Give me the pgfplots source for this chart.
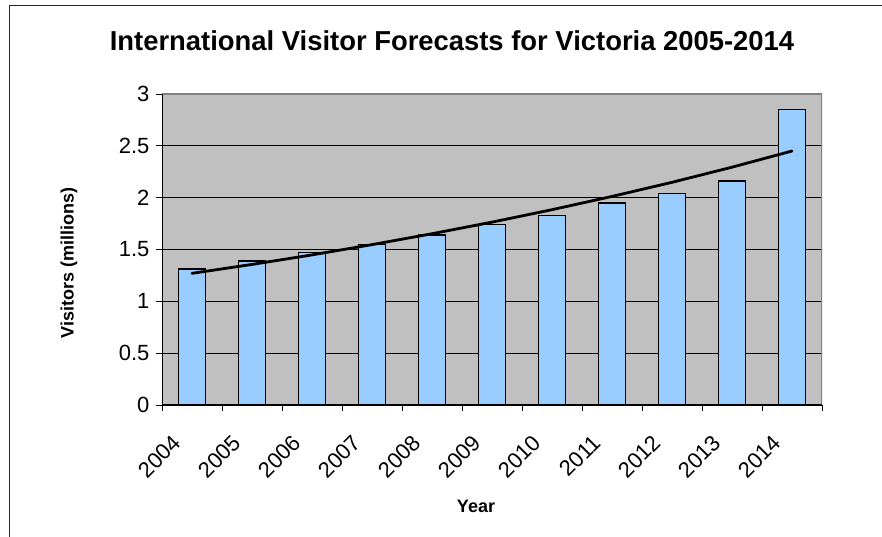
\documentclass[border=0pt]{standalone}
\usepackage{pgfplots}
\pgfplotsset{compat=1.18}
\usepackage{fontspec}
\setmainfont{Liberation Sans}
\definecolor{plotbg}{HTML}{C0C0C0}
\definecolor{barblue}{HTML}{99CCFF}
\definecolor{areaedge}{HTML}{808080}

\begin{document}
\begin{tikzpicture}[x=1pt,y=1pt]
\clip (0,0) rectangle (882,536);
\fill[white] (0,0) rectangle (882,536);
\draw[line width=1.6pt, black!85] (9.5,-10) rectangle (900,530.5);
\node[font=\bfseries\fontsize{27.4}{32}\selectfont, anchor=base] at (452,485.3)
  {International Visitor Forecasts for Victoria 2005-2014};
\node[font=\bfseries\fontsize{18}{22}\selectfont, rotate=90] at (69,273) {Visitors (millions)};
\node[font=\bfseries\fontsize{18}{22}\selectfont, anchor=base] at (476,24) {Year};
\begin{axis}[
  at={(162pt,131pt)}, anchor=south west,
  width=660pt, height=311pt, scale only axis,
  xmin=-0.5, xmax=10.5, ymin=0, ymax=3,
  axis background/.style={fill=plotbg},
  axis line style={draw=none},
  ytick={0,0.5,1,1.5,2,2.5,3},
  ymajorgrids, grid style={black, line width=0.9pt},
  tick align=outside, major tick length=6pt,
  tick style={black, line width=0.9pt},
  xtick pos=lower, ytick pos=left,
  xtick={-0.5,0.5,...,10.5},
  x tick label as interval,
  xticklabels={2004,2005,2006,2007,2008,2009,2010,2011,2012,2013,2014},
  /pgf/number format/assume math mode=true,
  yticklabel style={font=\fontsize{22}{26}\selectfont, xshift=-3pt},
  xticklabel style={font=\fontsize{22}{26}\selectfont, xshift=-15pt, yshift=-28pt, rotate=45, anchor=east, inner sep=0pt},
]
% forecast visitors (millions)
\addplot[ybar, bar width=26.7pt, fill=barblue, draw=black, line width=1.5pt]
  coordinates {(0,1.31) (1,1.39) (2,1.47) (3,1.55) (4,1.64) (5,1.74)
               (6,1.83) (7,1.95) (8,2.04) (9,2.16) (10,2.85)};
% trend
\addplot[black, line width=2.8pt, sharp plot, mark=none, line cap=round]
  coordinates {(0,1.27) (1,1.356) (2,1.448) (3,1.547) (4,1.652) (5,1.764)
               (6,1.884) (7,2.012) (8,2.148) (9,2.294) (10,2.45)};
\draw[areaedge, line width=1.2pt] (rel axis cs:0,1) -- (rel axis cs:1,1) -- (rel axis cs:1,0);
\draw[black, line width=1.2pt] (rel axis cs:0,1) -- (rel axis cs:0,0) -- (rel axis cs:1,0);
\end{axis}
\end{tikzpicture}
\end{document}
